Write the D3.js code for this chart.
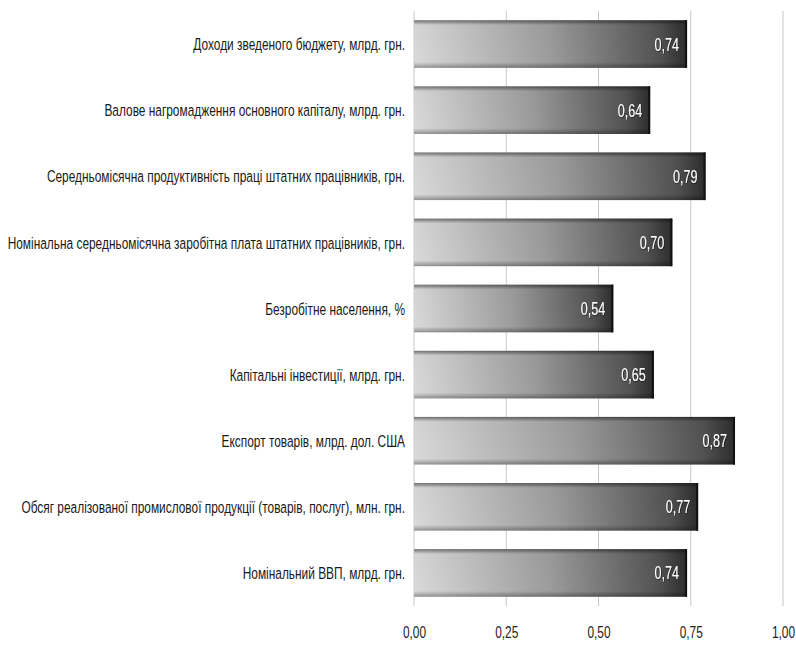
<!DOCTYPE html>
<html>
<head>
<meta charset="utf-8">
<script src="https://cdn.jsdelivr.net/npm/d3@7"></script>
<style>
  html, body { margin: 0; padding: 0; background: #fff; }
  text { font-family: "Liberation Sans", "DejaVu Sans", sans-serif; }
</style>
</head>
<body>
<svg id="chart" width="796" height="653"></svg>
<script>
// Indicators and their coefficients
const categories = [
  "Доходи зведеного бюджету, млрд. грн.",
  "Валове нагромадження основного капіталу, млрд. грн.",
  "Середньомісячна продуктивність праці штатних працівників, грн.",
  "Номінальна середньомісячна заробітна плата штатних працівників, грн.",
  "Безробітне населення, %",
  "Капітальні інвестиції, млрд. грн.",
  "Експорт товарів, млрд. дол. США",
  "Обсяг реалізованої промислової продукції (товарів, послуг), млн. грн.",
  "Номінальний ВВП, млрд. грн."
];
const values = [0.74, 0.64, 0.79, 0.70, 0.54, 0.65, 0.87, 0.77, 0.74];
const tickValues = [0, 0.25, 0.5, 0.75, 1.0];

const svg = d3.select("#chart");
const plotLeft = 414, plotRight = 783, plotTop = 11, plotBottom = 606;
const labelRight = 405;
const narrow = 0.7; // horizontal compression for the condensed type

const x = d3.scaleLinear().domain([0, 1]).range([plotLeft, plotRight]);
const y = d3.scaleBand().domain(categories).range([plotTop, plotBottom]).paddingInner(0.28).paddingOuter(0.14);

const fmt = v => d3.format(".2f")(v).replace(".", ",");

const defs = svg.append("defs");
const hg = defs.append("linearGradient").attr("id", "barH").attr("x1", "0%").attr("x2", "100%");
hg.append("stop").attr("offset", "0%").attr("stop-color", "#e2e2e2");
hg.append("stop").attr("offset", "50%").attr("stop-color", "#a2a2a2");
hg.append("stop").attr("offset", "90%").attr("stop-color", "#555");
hg.append("stop").attr("offset", "100%").attr("stop-color", "#2e2e2e");
const vg = defs.append("linearGradient").attr("id", "barV").attr("x1", "0%").attr("x2", "0%").attr("y1", "0%").attr("y2", "100%");
vg.append("stop").attr("offset", "0%").attr("stop-color", "#000").attr("stop-opacity", 0.5);
vg.append("stop").attr("offset", "10%").attr("stop-color", "#000").attr("stop-opacity", 0.06);
vg.append("stop").attr("offset", "88%").attr("stop-color", "#000").attr("stop-opacity", 0.04);
vg.append("stop").attr("offset", "100%").attr("stop-color", "#000").attr("stop-opacity", 0.35);
const sh = defs.append("filter").attr("id", "txtShadow").attr("x", "-20%").attr("y", "-20%").attr("width", "140%").attr("height", "140%");
sh.append("feDropShadow").attr("dx", 0.6).attr("dy", 0.6).attr("stdDeviation", 0.6).attr("flood-color", "#000").attr("flood-opacity", 0.8);

// Vertical gridlines
svg.append("g").selectAll("line").data(tickValues).join("line")
  .attr("x1", d => x(d)).attr("x2", d => x(d))
  .attr("y1", plotTop).attr("y2", plotBottom)
  .attr("stroke", "#c8c8c8").attr("stroke-width", 1);

// Bars
const bars = svg.append("g").selectAll("g").data(categories).join("g");
bars.append("rect")
  .attr("x", x(0)).attr("y", d => y(d))
  .attr("width", (d, i) => x(values[i]) - x(0)).attr("height", y.bandwidth())
  .attr("fill", "url(#barH)");
bars.append("rect")
  .attr("x", x(0)).attr("y", d => y(d))
  .attr("width", (d, i) => x(values[i]) - x(0)).attr("height", y.bandwidth())
  .attr("fill", "url(#barV)");
bars.append("line")
  .attr("x1", (d, i) => x(values[i]) - 1).attr("x2", (d, i) => x(values[i]) - 1)
  .attr("y1", d => y(d)).attr("y2", d => y(d) + y.bandwidth())
  .attr("stroke", "#111").attr("stroke-width", 2);

// Value labels inside bars
bars.append("text")
  .attr("transform", (d, i) => `translate(${x(values[i]) - 8},${y(d) + y.bandwidth() / 2}) scale(${narrow},1)`)
  .attr("dy", "0.36em")
  .attr("text-anchor", "end")
  .attr("font-size", 18)
  .attr("fill", "#fff")
  .attr("filter", "url(#txtShadow)")
  .text((d, i) => fmt(values[i]));

// Category labels
svg.append("g").selectAll("text").data(categories).join("text")
  .attr("transform", d => `translate(${labelRight},${y(d) + y.bandwidth() / 2}) scale(${narrow},1)`)
  .attr("dy", "0.36em")
  .attr("text-anchor", "end")
  .attr("font-size", 17)
  .attr("fill", "#1a1a1a")
  .text(d => d);

// Bottom axis
const axis = svg.append("g").attr("transform", `translate(0,${plotBottom})`)
  .call(d3.axisBottom(x).tickValues(tickValues).tickFormat(fmt).tickSize(0).tickPadding(20));
axis.select(".domain").remove();
axis.selectAll(".tick text")
  .attr("transform", `scale(${narrow},1)`)
  .attr("x", 0)
  .attr("font-size", 17).attr("fill", "#222")
  .style("font-family", '"Liberation Sans", "DejaVu Sans", sans-serif');
</script>
</body>
</html>
